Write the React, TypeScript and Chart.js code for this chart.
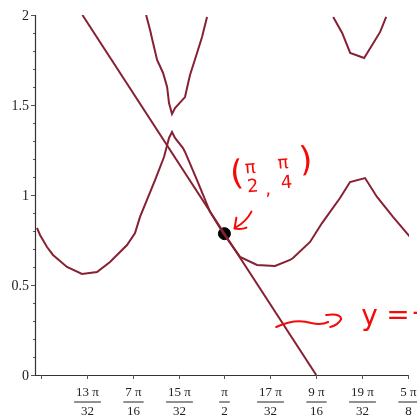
import React, { useEffect, useRef } from 'react';
import { Chart, registerables } from 'chart.js';
Chart.register(...registerables);

// Lower branch of the implicit curve
const lowerX = [1.170, 1.1764, 1.1914, 1.2042, 1.2341, 1.2662, 1.2983, 1.3261, 1.3625, 1.3796, 1.3903, 1.4224, 1.4416, 1.4523, 1.4587, 1.4651, 1.4822, 1.4865, 1.5122, 1.5400, 1.5678, 1.6042, 1.6405, 1.6790, 1.7111, 1.7175, 1.7539, 1.7795, 1.8180, 1.8394, 1.8715, 1.8971, 1.9313, 1.9677];
const lowerY = [0.817, 0.778, 0.711, 0.667, 0.600, 0.561, 0.572, 0.628, 0.722, 0.789, 0.878, 1.083, 1.211, 1.317, 1.350, 1.317, 1.261, 1.239, 1.083, 0.906, 0.789, 0.656, 0.611, 0.606, 0.639, 0.650, 0.739, 0.844, 0.983, 1.072, 1.094, 0.989, 0.878, 0.767];

// Upper-left branch
const upperLeftX = [1.4033, 1.4118, 1.4182, 1.4268, 1.4396, 1.4482, 1.4523, 1.4587, 1.4651, 1.4865, 1.4908, 1.4972, 1.5122, 1.5229, 1.5336];
const upperLeftY = [2.0, 1.917, 1.844, 1.75, 1.678, 1.6, 1.511, 1.45, 1.483, 1.544, 1.594, 1.667, 1.789, 1.878, 1.989];

// Upper-right branch
const upperRightX = [1.8034, 1.8226, 1.8397, 1.8696, 1.8867, 1.9038, 1.9167];
const upperRightY = [1.989, 1.9, 1.789, 1.761, 1.833, 1.906, 1.989];

// Tangent line y = 9π/4 - 4x, endpoints
const tangentX = [1.2671, 1.7671];
const tangentY = [2, 0];

// Point of tangency (π/2, π/4)
const pointX = [Math.PI / 2];
const pointY = [Math.PI / 4];

// Axis ranges
const xRange = [1.1657, 1.9655];
const yRange = [0, 2];

// Tick labels
const xTickMultiples = [12, 13, 14, 15, 16, 17, 18, 19, 20]; // k·π/32
const xTickNum = ['', '13 π', '7 π', '15 π', 'π', '17 π', '9 π', '19 π', '5 π'];
const xTickDen = ['', '32', '16', '32', '2', '32', '16', '32', '8'];
const yTickValues = [0, 0.5, 1, 1.5, 2];
const yTickLabels = ['0', '0.5', '1', '1.5', '2'];
const yMinorStep = 0.1;

const zip = (xs: number[], ys: number[]) => xs.map((x, i) => ({ x, y: ys[i] }));

const CURVE = 'rgb(135,32,50)';
const RED = 'rgb(245,10,10)';

const axesPlugin = {
  id: 'axesPlugin',
  afterDraw(chart: any) {
    const ctx: CanvasRenderingContext2D = chart.ctx;
    const { left, right, top, bottom } = chart.chartArea;
    const xs = chart.scales.x;
    const ys = chart.scales.y;
    ctx.save();
    // axes
    ctx.strokeStyle = '#333';
    ctx.lineWidth = 1.2;
    ctx.beginPath();
    ctx.moveTo(left + 0.5, top);
    ctx.lineTo(left + 0.5, bottom + 0.5);
    ctx.lineTo(right, bottom + 0.5);
    ctx.stroke();

    // y ticks
    ctx.lineWidth = 1;
    ctx.strokeStyle = '#555';
    const nMinor = Math.round((yRange[1] - yRange[0]) / yMinorStep);
    for (let i = 0; i <= nMinor; i++) {
      const v = yRange[0] + i * yMinorStep;
      const py = Math.round(ys.getPixelForValue(v)) + 0.5;
      const major = i % 5 === 0;
      ctx.beginPath();
      ctx.moveTo(left - (major ? 4 : 2), py);
      ctx.lineTo(left, py);
      ctx.stroke();
    }
    ctx.fillStyle = '#222';
    ctx.font = '14px "Liberation Serif"';
    ctx.textAlign = 'right';
    ctx.textBaseline = 'middle';
    yTickValues.forEach((v, i) => {
      const py = ys.getPixelForValue(v);
      ctx.fillText(yTickLabels[i], left - 6, py + 1);
    });

    // x ticks and fraction labels
    ctx.font = '13px "Liberation Serif"';
    ctx.textAlign = 'center';
    xTickMultiples.forEach((k, i) => {
      const px = Math.round(xs.getPixelForValue((k * Math.PI) / 32)) + 0.5;
      ctx.strokeStyle = '#555';
      ctx.beginPath();
      ctx.moveTo(px, bottom);
      ctx.lineTo(px, bottom + 4);
      ctx.stroke();
      if (!xTickNum[i]) return;
      const wN = ctx.measureText(xTickNum[i]).width;
      const wD = ctx.measureText(xTickDen[i]).width;
      const w = Math.max(wN, wD) + 4;
      ctx.fillText(xTickNum[i], px, bottom + 18);
      ctx.fillText(xTickDen[i], px, bottom + 37);
      ctx.strokeStyle = '#222';
      ctx.beginPath();
      ctx.moveTo(px - w / 2, bottom + 27);
      ctx.lineTo(px + w / 2, bottom + 27);
      ctx.stroke();
    });

    // Hand-written annotations
    ctx.fillStyle = RED;
    ctx.strokeStyle = RED;
    ctx.lineWidth = 2;
    ctx.lineCap = 'round';
    ctx.lineJoin = 'round';
    const ox = xs.getPixelForValue(Math.PI / 2);
    const oy = ys.getPixelForValue(Math.PI / 4);
    ctx.save();
    ctx.translate(ox, oy);
    ctx.rotate(-0.08);
    ctx.textAlign = 'center';
    ctx.textBaseline = 'middle';
    ctx.font = '34px "DejaVu Sans"';
    ctx.fillText('(', 17, -57);
    ctx.fillText(')', 87, -65);
    ctx.font = '18px "DejaVu Sans"';
    ctx.fillText('π', 31, -63);
    ctx.fillText('2', 32, -44);
    ctx.fillText(',', 47, -40);
    ctx.fillText('π', 64, -65);
    ctx.fillText('4', 66, -45);
    ctx.restore();
    // arrow to the point
    ctx.beginPath();
    ctx.moveTo(ox + 27, oy - 22);
    ctx.quadraticCurveTo(ox + 22, oy - 12, ox + 11, oy - 6);
    ctx.moveTo(ox + 12, oy - 16);
    ctx.lineTo(ox + 10, oy - 5);
    ctx.quadraticCurveTo(ox + 18, oy - 4, ox + 22, oy - 6);
    ctx.stroke();

    // squiggly arrow and "y = -"
    const bx = xs.getPixelForValue(tangentX[1]);
    const by = bottom;
    ctx.beginPath();
    ctx.moveTo(bx - 40, by - 48);
    ctx.bezierCurveTo(bx - 25, by - 55, bx - 15, by - 55, bx - 5, by - 52);
    ctx.bezierCurveTo(bx + 3, by - 50, bx + 8, by - 51, bx + 12, by - 53);
    ctx.moveTo(bx + 10, by - 60);
    ctx.quadraticCurveTo(bx + 24, by - 62, bx + 25, by - 56);
    ctx.quadraticCurveTo(bx + 22, by - 50, bx + 14, by - 48);
    ctx.stroke();
    ctx.textAlign = 'left';
    ctx.textBaseline = 'alphabetic';
    ctx.font = '28px "DejaVu Sans"';
    ctx.fillText('y', bx + 45, by - 50);
    ctx.fillText('=', bx + 70, by - 51);
    ctx.fillText('-', bx + 96, by - 54);
    ctx.restore();
  },
};

export default function App() {
  const ref = useRef<HTMLCanvasElement | null>(null);
  useEffect(() => {
    document.body.style.margin = '0';
    const canvas = ref.current!;
    const lineDs = (label: string, data: any[]) => ({
      label,
      data,
      showLine: true,
      borderColor: CURVE,
      borderWidth: 2,
      pointRadius: 0,
      tension: 0,
      fill: false,
    });
    const chart = new Chart(canvas, {
      type: 'scatter',
      data: {
        datasets: [
          lineDs('lower', zip(lowerX, lowerY)),
          lineDs('upperLeft', zip(upperLeftX, upperLeftY)),
          lineDs('upperRight', zip(upperRightX, upperRightY)),
          lineDs('tangent', zip(tangentX, tangentY)),
          {
            label: 'point',
            data: zip(pointX, pointY),
            pointRadius: 6,
            pointBackgroundColor: '#000',
            pointBorderColor: '#000',
            showLine: false,
          } as any,
        ],
      },
      options: {
        animation: false,
        responsive: false,
        maintainAspectRatio: false,
        layout: { padding: { left: 35, right: 8, top: 15, bottom: 44 } },
        plugins: { legend: { display: false }, tooltip: { enabled: false } },
        scales: {
          x: { type: 'linear', min: xRange[0], max: xRange[1], display: false },
          y: { type: 'linear', min: yRange[0], max: yRange[1], display: false },
        },
      },
      plugins: [axesPlugin],
    });
    return () => chart.destroy();
  }, []);
  return <canvas ref={ref} width={417} height={419} style={{ display: 'block' }} />;
}
